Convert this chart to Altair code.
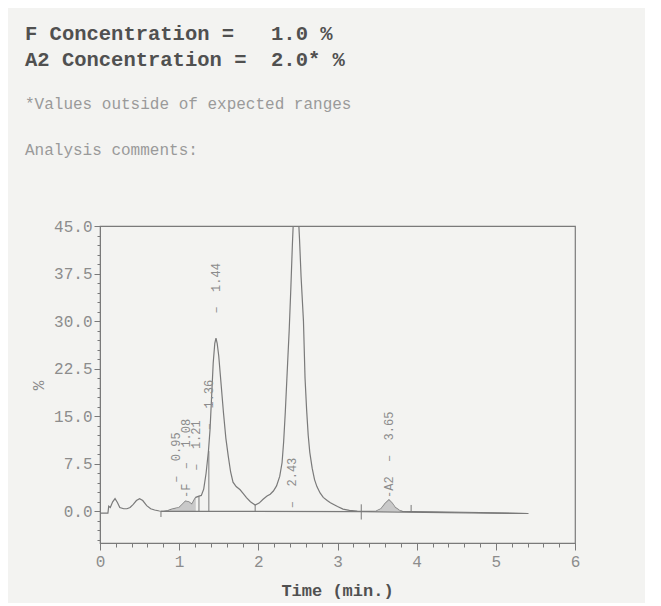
import altair as alt
import pandas as pd

# ---- chromatogram trace (time in min, signal in %) ----
time_min = [0.00, 0.10, 0.11, 0.13, 0.16, 0.19, 0.22, 0.25, 0.30, 0.34, 0.38, 0.42, 0.46, 0.50,
            0.54, 0.59, 0.64, 0.69, 0.75, 0.80, 0.86, 0.90, 0.95, 1.00, 1.04, 1.08, 1.12, 1.16,
            1.19, 1.21, 1.25, 1.28, 1.31, 1.34, 1.37, 1.39, 1.41, 1.43, 1.45, 1.465, 1.48, 1.50,
            1.52, 1.56, 1.59, 1.62, 1.65, 1.68, 1.72, 1.77, 1.81, 1.85, 1.90, 1.96, 2.01, 2.06,
            2.11, 2.15, 2.19, 2.23, 2.27, 2.30, 2.32, 2.34, 2.37, 2.39, 2.41, 2.43, 2.45, 2.50,
            2.52, 2.54, 2.57, 2.59, 2.61, 2.63, 2.65, 2.68, 2.71, 2.74, 2.78, 2.82, 2.87, 2.91,
            3.00, 3.07, 3.15, 3.25, 3.40, 3.49, 3.55, 3.60, 3.65, 3.69, 3.73, 3.78, 3.82, 3.95,
            4.20, 4.60, 5.00, 5.41]
signal = [-0.3, -0.3, 0.8, 0.6, 1.5, 2.0, 1.4, 0.6, 0.4, 0.4, 0.6, 1.1, 1.7, 2.0,
          1.7, 0.9, 0.4, 0.2, 0.05, 0.0, 0.1, 0.3, 0.45, 0.6, 1.1, 1.6, 1.5, 1.1,
          1.8, 2.2, 2.4, 2.5, 3.5, 6.0, 9.5, 12.9, 18.1, 23.4, 26.5, 27.3, 26.5, 24.5,
          21.5, 15.5, 11.5, 8.7, 6.2, 4.6, 3.9, 3.4, 2.8, 2.15, 1.5, 1.0, 1.3, 1.9,
          2.4, 2.7, 3.2, 4.0, 5.5, 7.7, 11.0, 15.5, 23.4, 28.6, 35.0, 42.0, 48.0, 48.0,
          43.0, 37.0, 30.0, 21.0, 16.0, 12.0, 9.3, 6.8, 5.0, 3.9, 2.9, 2.2, 1.7, 1.35,
          0.75, 0.35, 0.15, 0.05, 0.0, 0.05, 0.4, 1.2, 1.8, 1.3, 0.6, 0.15, 0.0, -0.05,
          -0.1, -0.15, -0.25, -0.35]

# integration baseline
base_t = [0.77, 3.30, 5.41]
base_v = [0.0, -0.05, -0.35]

# shaded (identified) peak windows
shade_start = [0.86, 3.49]
shade_end = [1.21, 3.82]

# drop lines / baseline markers
drop_t = [0.77, 1.25, 1.375, 1.96, 3.30, 3.93]
drop_top = [0.0, 2.4, 9.5, 1.0, 1.1, 1.0]
drop_bot = [-0.9, 0.0, 0.0, 0.0, -1.3, 0.0]

# peak labels (NBSP keeps the printer's spacing)
S = "\u00a0"
D = "\u2013"
label_t = [0.96, 1.09, 1.215, 1.38, 1.465, 2.43, 3.65]
label_v = [4.5, 2.1, 6.4, 12.8, 31.2, 0.5, 2.1]
label_text = [f"{D}{S*2}0.95", f"-F{S*2}{D}{S*2}1.08", f"{D}{S*2}1.21", f"{D}{S*2}1.36",
              f"{D}{S*2}1.44", f"{D}{S*2}2.43", f"-A2{S*2}{D}{S*2}3.65"]

FONT = "Liberation Mono"
GREY = "#7a7a7a"
LIGHT = "#8c8c8c"
DARK = "#505050"

curve = pd.DataFrame({"t": time_min, "v": signal})
base_df = pd.DataFrame({"t": base_t, "v": base_v})
drops = pd.DataFrame({"t": drop_t, "top": drop_top, "bot": drop_bot})
labels = pd.DataFrame({"t": label_t, "v": label_v, "txt": label_text})

xscale = alt.Scale(domain=[0, 6], nice=False, zero=False)
yscale = alt.Scale(domain=[-5, 45], nice=False, zero=False)

x_ticks = [round(i * 0.2, 1) for i in range(0, 31)]
y_ticks = [i * 1.5 for i in range(-3, 31)]

x_axis = alt.Axis(
    values=x_ticks, tickCount=200, labelFlush=False,
    labelExpr="abs(datum.value - round(datum.value)) < 0.001 ? format(datum.value, 'd') : ''",
    tickSize={"condition": {"test": "abs(datum.value - round(datum.value)) < 0.001", "value": 7}, "value": 4},
    grid=False, labelOverlap=False, labelFont=FONT, labelFontSize=16, labelColor=LIGHT,
    labelPadding=3, tickColor=GREY, domainColor=GREY,
    title="Time (min.)", titleFont=FONT, titleFontSize=17, titleFontWeight="bold",
    titleColor=DARK, titleX=237, titleY=52, titleBaseline="alphabetic", titleAnchor="middle",
    titleAlign="center",
)
y_axis = alt.Axis(
    values=y_ticks, tickCount=200, labelFlush=False,
    labelExpr="datum.value % 7.5 === 0 && datum.value >= 0 ? format(datum.value, '.1f') : ''",
    tickSize={"condition": {"test": "datum.value % 7.5 === 0", "value": 6}, "value": 3},
    grid=False, labelOverlap=False, labelFont=FONT, labelFontSize=16, labelColor=LIGHT,
    labelPadding=2, tickColor=GREY, domainColor=GREY,
    title="%", titleFont=FONT, titleFontSize=16, titleColor=LIGHT, titleFontWeight="normal",
    titleX=-62, titleY=159, titleAngle=270, titleAlign="center", titleBaseline="middle",
)

line = alt.Chart(curve).mark_line(color=GREY, strokeWidth=1.2, clip=True).encode(
    x=alt.X("t:Q", scale=xscale, axis=x_axis),
    y=alt.Y("v:Q", scale=yscale, axis=y_axis),
    order="t:Q",
)

shade_layers = []
for s, e in zip(shade_start, shade_end):
    shade_layers.append(
        alt.Chart(curve).transform_filter(
            (alt.datum.t >= s) & (alt.datum.t <= e)
        ).mark_area(color="#c4c4c4", opacity=0.9).encode(
            x=alt.X("t:Q", scale=xscale),
            y=alt.Y("v:Q", scale=yscale),
            y2=alt.datum(0),
        )
    )

baseline = alt.Chart(base_df).mark_line(color=GREY, strokeWidth=1.2).encode(
    x=alt.X("t:Q", scale=xscale),
    y=alt.Y("v:Q", scale=yscale),
)

drop_rules = alt.Chart(drops).mark_rule(color=GREY, strokeWidth=1).encode(
    x=alt.X("t:Q", scale=xscale),
    y=alt.Y("top:Q", scale=yscale),
    y2="bot:Q",
)

peak_labels = alt.Chart(labels).mark_text(
    angle=270, align="left", baseline="middle", font=FONT, fontSize=12, color=LIGHT
).encode(
    x=alt.X("t:Q", scale=xscale),
    y=alt.Y("v:Q", scale=yscale),
    text="txt:N",
)

one = pd.DataFrame({"a": [0]})


def header(text, x, y, size, color, weight="normal"):
    return alt.Chart(one).mark_text(
        x=x, y=y, align="left", baseline="alphabetic", font=FONT, fontSize=size,
        color=color, fontWeight=weight,
    ).encode(text=alt.value(text))


headers = [
    header(f"F Concentration ={S*3}1.0 %", -75, -186, 20.5, DARK, "bold"),
    header(f"A2 Concentration ={S*2}2.0* %", -75, -160, 20.5, DARK, "bold"),
    header("*Values outside of expected ranges", -75, -117, 16, "#9a9a9a"),
    header("Analysis comments:", -75, -71, 16, "#9a9a9a"),
]

chart = alt.layer(line, *shade_layers, baseline, drop_rules, peak_labels, *headers).properties(
    width=475,
    height=317,
    autosize=alt.AutoSizeParams(type="none"),
    padding={"left": 92, "top": 218, "right": 70, "bottom": 60},
    background="#f3f3f1",
).configure_view(stroke=GREY, strokeWidth=1.2)

chart.save("out.html", embed_options={"renderer": "svg", "actions": False})
